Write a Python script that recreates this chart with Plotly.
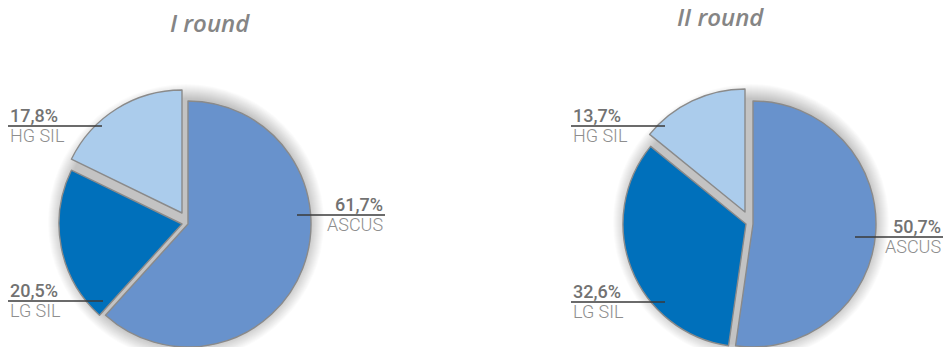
import plotly.graph_objects as go

# --- data -------------------------------------------------------------
categories = ["ASCUS", "LG SIL", "HG SIL"]
round_titles = ["I round", "II round"]
round1_values = [61.7, 20.5, 17.8]
round2_values = [50.7, 32.6, 13.7]

# --- styling / layout constants ---------------------------------------
W, H = 946, 347
slice_colors = {"ASCUS": "#6892CC", "LG SIL": "#0070BB", "HG SIL": "#ABCCEC"}
outline_color = "#8A8A8A"
R = 123  # pie radius in px

# per-pie geometry: main centre and exploded offsets (px) for each slice
pies = [
    {
        "values": round1_values,
        "center": (188, 224),
        "offsets": {"ASCUS": (0, 0), "LG SIL": (-6, 0), "HG SIL": (-6, -11)},
        "title_pos": (210, 22),
        "labels": {
            "HG SIL": {"side": "left", "x0": 8, "x1": 102, "y": 126},
            "LG SIL": {"side": "left", "x0": 8, "x1": 103, "y": 301},
            "ASCUS": {"side": "right", "x0": 297, "x1": 385, "y": 215},
        },
    },
    {
        "values": round2_values,
        "center": (753, 224),
        "offsets": {"ASCUS": (0, 0), "LG SIL": (-7, 0), "HG SIL": (-8, -12)},
        "title_pos": (720, 17),
        "labels": {
            "HG SIL": {"side": "left", "x0": 571, "x1": 665, "y": 126},
            "LG SIL": {"side": "left", "x0": 571, "x1": 665, "y": 302},
            "ASCUS": {"side": "right", "x0": 855, "x1": 943, "y": 237},
        },
    },
]


def px(x):
    return x / W


def py(y):
    return 1 - y / H


def clamp(v):
    return min(1.0, max(0.0, v))


def fmt_pct(v):
    return f"{v:.1f}%".replace(".", ",")


fig = go.Figure()
shapes = []
annotations = []

for pie, title in zip(pies, round_titles):
    cx, cy = pie["center"]

    # soft grey shadow behind the whole pie
    for k in range(15, 0, -1):
        rr = R + k
        shapes.append(dict(
            type="circle", layer="below",
            xref="paper", yref="paper",
            xsizemode="pixel", ysizemode="pixel",
            xanchor=px(cx - 2), yanchor=py(cy - 2),
            x0=-rr, x1=rr, y0=-rr, y1=rr,
            fillcolor="rgba(0,0,0,0.016)", line=dict(width=0),
        ))

    # one trace per slice so each wedge can be exploded independently
    for i, cat in enumerate(categories):
        ox, oy = pie["offsets"][cat]
        sx, sy = cx + ox, cy + oy
        colors = ["rgba(0,0,0,0)"] * len(categories)
        colors[i] = slice_colors[cat]
        widths = [0] * len(categories)
        widths[i] = 1.4
        fig.add_trace(go.Pie(
            labels=categories,
            values=pie["values"],
            sort=False,
            direction="clockwise",
            rotation=0,
            textinfo="none",
            hoverinfo="skip",
            showlegend=False,
            marker=dict(colors=colors, line=dict(color=outline_color, width=widths)),
            domain=dict(
                x=[clamp(px(sx - R)), clamp(px(sx + R))],
                y=[clamp(py(sy + R)), clamp(py(sy - R))],
            ),
        ))

    # title
    tx, ty = pie["title_pos"]
    annotations.append(dict(
        text=title, xref="paper", yref="paper",
        x=px(tx), y=py(ty), xanchor="center", yanchor="middle",
        showarrow=False,
        font=dict(family="Open Sans", size=24, color="#858585",
                  style="italic", weight=600),
    ))

    # value labels with leader lines
    for cat, val in zip(categories, pie["values"]):
        spec = pie["labels"][cat]
        ly = spec["y"]
        anchor_x = spec["x0"] if spec["side"] == "left" else spec["x1"]
        shapes.append(dict(
            type="line", xref="paper", yref="paper",
            x0=px(spec["x0"]), x1=px(spec["x1"]), y0=py(ly), y1=py(ly),
            line=dict(color="#3A3A3A", width=1.3),
        ))
        annotations.append(dict(
            text=fmt_pct(val), xref="paper", yref="paper",
            x=px(anchor_x), y=py(ly - 11), xanchor=spec["side"], yanchor="middle",
            showarrow=False,
            font=dict(family="Roboto", size=18, color="#727272", weight=500),
        ))
        annotations.append(dict(
            text=cat, xref="paper", yref="paper",
            x=px(anchor_x), y=py(ly + 9.5), xanchor=spec["side"], yanchor="middle",
            showarrow=False,
            font=dict(family="Roboto", size=18, color="#8E8E8E", weight=300),
        ))

fig.update_layout(
    width=W, height=H,
    margin=dict(l=0, r=0, t=0, b=0),
    paper_bgcolor="white",
    plot_bgcolor="white",
    shapes=shapes,
    annotations=annotations,
)

fig.write_html("out.html")
